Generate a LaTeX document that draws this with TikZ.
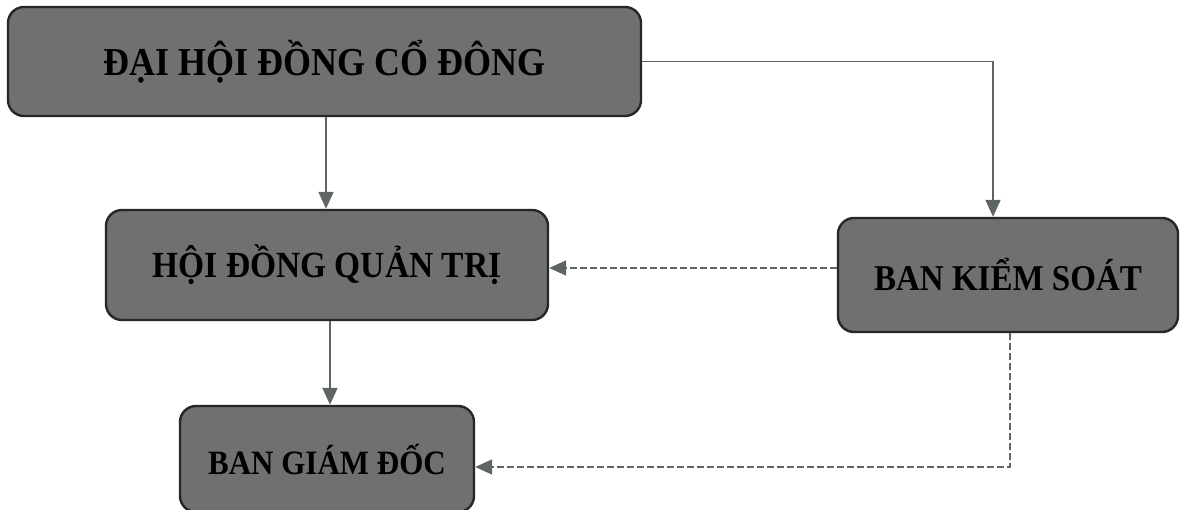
\documentclass[tikz,border=0pt]{standalone}
\usepackage{fontspec}
\setmainfont{Liberation Serif}
\usetikzlibrary{arrows.meta}
\definecolor{boxfill}{HTML}{6E716E}
\definecolor{boxline}{HTML}{262826}
\definecolor{linegray}{HTML}{5F6464}
\tikzset{
  orgbox/.style={draw=boxline, line width=2.4pt, fill=boxfill, rounded corners=16pt,
    inner sep=0pt, text=black, font=\bfseries},
  arr/.style={draw=linegray, line width=1.8pt, -{Triangle[width=15pt,length=17pt]}},
  darr/.style={arr, dash pattern=on 7pt off 3pt},
}
\newcommand{\tallt}[2]{\fontsize{#1}{#1}\selectfont\scalebox{1}[1.1]{#2}}
\begin{document}
\begin{tikzpicture}[x=1pt,y=-1pt]
\useasboundingbox (0,0) rectangle (1180,509);
\fill[white] (0,0) rectangle (1180,509);
\node[orgbox, minimum width=633pt, minimum height=109pt] (dhd) at (324.5,61.5)
  {\tallt{36}{ĐẠI HỘI ĐỒNG CỔ ĐÔNG}};
\node[orgbox, minimum width=442pt, minimum height=110pt] (hdqt) at (327,265)
  {\tallt{33.5}{HỘI ĐỒNG QUẢN TRỊ}};
\node[orgbox, minimum width=340pt, minimum height=114pt] (bks) at (1008,275)
  {\tallt{33}{BAN KIỂM SOÁT}};
\node[orgbox, minimum width=294pt, minimum height=106pt] (bgd) at (327,459)
  {\tallt{31}{BAN GIÁM ĐỐC}};
\coordinate (c1) at (993,61.5);
\coordinate (c2) at (1010,467);
\draw[arr] (dhd.south -| 326,0) -- (hdqt.north -| 326,0);
\draw[arr] (dhd.east) -- (c1) -- (bks.north -| c1);
\draw[darr] (bks.west |- 0,268) -- (hdqt.east |- 0,268);
\draw[arr] (hdqt.south -| 330,0) -- (bgd.north -| 330,0);
\draw[darr] (bks.south -| c2) -- (c2) -- (bgd.east |- c2);
\end{tikzpicture}
\end{document}
